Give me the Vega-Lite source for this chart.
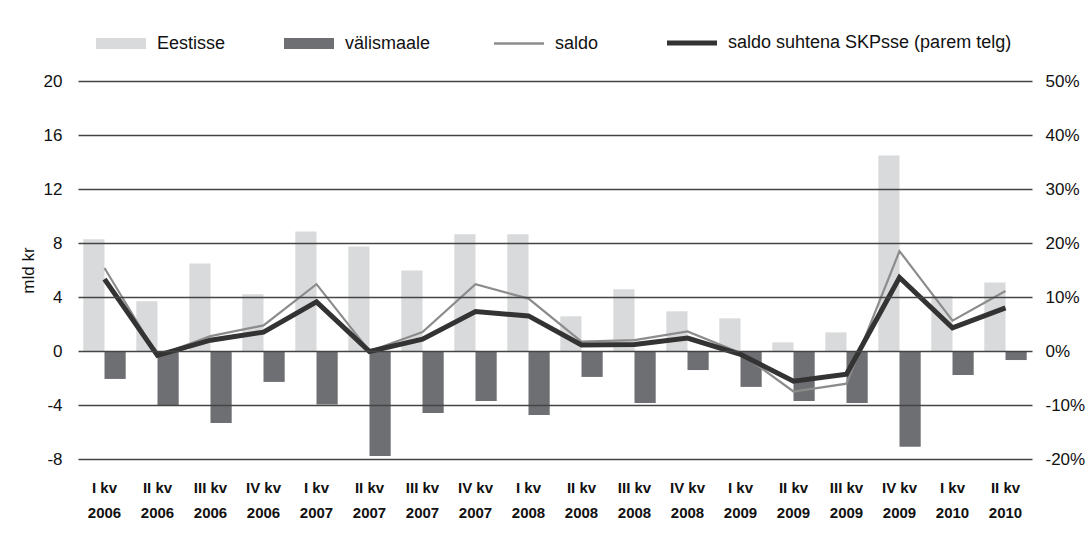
{
  "$schema": "https://vega.github.io/schema/vega-lite/v6.json",
  "width": 954,
  "height": 378,
  "autosize": {"type": "none"},
  "padding": {"left": 78, "top": 81, "right": 58, "bottom": 75},
  "background": "white",
  "config": {
    "view": {"stroke": null},
    "font": "Liberation Sans, Arial, Helvetica, sans-serif"
  },
  "data": {
    "values": [
      {"q": "I kv|2006", "s": "Eestisse", "v": 8.27},
      {"q": "II kv|2006", "s": "Eestisse", "v": 3.68},
      {"q": "III kv|2006", "s": "Eestisse", "v": 6.49},
      {"q": "IV kv|2006", "s": "Eestisse", "v": 4.2},
      {"q": "I kv|2007", "s": "Eestisse", "v": 8.86},
      {"q": "II kv|2007", "s": "Eestisse", "v": 7.75},
      {"q": "III kv|2007", "s": "Eestisse", "v": 5.97},
      {"q": "IV kv|2007", "s": "Eestisse", "v": 8.64},
      {"q": "I kv|2008", "s": "Eestisse", "v": 8.64},
      {"q": "II kv|2008", "s": "Eestisse", "v": 2.57},
      {"q": "III kv|2008", "s": "Eestisse", "v": 4.57},
      {"q": "IV kv|2008", "s": "Eestisse", "v": 2.94},
      {"q": "I kv|2009", "s": "Eestisse", "v": 2.42},
      {"q": "II kv|2009", "s": "Eestisse", "v": 0.64},
      {"q": "III kv|2009", "s": "Eestisse", "v": 1.38},
      {"q": "IV kv|2009", "s": "Eestisse", "v": 14.49},
      {"q": "I kv|2010", "s": "Eestisse", "v": 4.07},
      {"q": "II kv|2010", "s": "Eestisse", "v": 5.08},
      {"q": "I kv|2006", "s": "välismaale", "v": -2.07},
      {"q": "II kv|2006", "s": "välismaale", "v": -4.07},
      {"q": "III kv|2006", "s": "välismaale", "v": -5.33},
      {"q": "IV kv|2006", "s": "välismaale", "v": -2.29},
      {"q": "I kv|2007", "s": "välismaale", "v": -3.97},
      {"q": "II kv|2007", "s": "välismaale", "v": -7.77},
      {"q": "III kv|2007", "s": "välismaale", "v": -4.59},
      {"q": "IV kv|2007", "s": "välismaale", "v": -3.7},
      {"q": "I kv|2008", "s": "välismaale", "v": -4.74},
      {"q": "II kv|2008", "s": "välismaale", "v": -1.92},
      {"q": "III kv|2008", "s": "välismaale", "v": -3.85},
      {"q": "IV kv|2008", "s": "välismaale", "v": -1.41},
      {"q": "I kv|2009", "s": "välismaale", "v": -2.66},
      {"q": "II kv|2009", "s": "välismaale", "v": -3.7},
      {"q": "III kv|2009", "s": "välismaale", "v": -3.85},
      {"q": "IV kv|2009", "s": "välismaale", "v": -7.1},
      {"q": "I kv|2010", "s": "välismaale", "v": -1.78},
      {"q": "II kv|2010", "s": "välismaale", "v": -0.67},
      {"q": "I kv|2006", "s": "saldo", "v": 6.15},
      {"q": "II kv|2006", "s": "saldo", "v": -0.35},
      {"q": "III kv|2006", "s": "saldo", "v": 1.1},
      {"q": "IV kv|2006", "s": "saldo", "v": 1.9},
      {"q": "I kv|2007", "s": "saldo", "v": 4.95},
      {"q": "II kv|2007", "s": "saldo", "v": -0.02},
      {"q": "III kv|2007", "s": "saldo", "v": 1.4},
      {"q": "IV kv|2007", "s": "saldo", "v": 4.95},
      {"q": "I kv|2008", "s": "saldo", "v": 3.88},
      {"q": "II kv|2008", "s": "saldo", "v": 0.7},
      {"q": "III kv|2008", "s": "saldo", "v": 0.8},
      {"q": "IV kv|2008", "s": "saldo", "v": 1.45},
      {"q": "I kv|2009", "s": "saldo", "v": -0.15},
      {"q": "II kv|2009", "s": "saldo", "v": -3.0},
      {"q": "III kv|2009", "s": "saldo", "v": -2.42},
      {"q": "IV kv|2009", "s": "saldo", "v": 7.4},
      {"q": "I kv|2010", "s": "saldo", "v": 2.25},
      {"q": "II kv|2010", "s": "saldo", "v": 4.45},
      {"q": "I kv|2006", "s": "saldo suhtena SKPsse (parem telg)", "v": 13.3},
      {"q": "II kv|2006", "s": "saldo suhtena SKPsse (parem telg)", "v": -0.8},
      {"q": "III kv|2006", "s": "saldo suhtena SKPsse (parem telg)", "v": 2.0},
      {"q": "IV kv|2006", "s": "saldo suhtena SKPsse (parem telg)", "v": 3.5},
      {"q": "I kv|2007", "s": "saldo suhtena SKPsse (parem telg)", "v": 9.1},
      {"q": "II kv|2007", "s": "saldo suhtena SKPsse (parem telg)", "v": -0.1},
      {"q": "III kv|2007", "s": "saldo suhtena SKPsse (parem telg)", "v": 2.2},
      {"q": "IV kv|2007", "s": "saldo suhtena SKPsse (parem telg)", "v": 7.3},
      {"q": "I kv|2008", "s": "saldo suhtena SKPsse (parem telg)", "v": 6.5},
      {"q": "II kv|2008", "s": "saldo suhtena SKPsse (parem telg)", "v": 1.1},
      {"q": "III kv|2008", "s": "saldo suhtena SKPsse (parem telg)", "v": 1.2},
      {"q": "IV kv|2008", "s": "saldo suhtena SKPsse (parem telg)", "v": 2.4},
      {"q": "I kv|2009", "s": "saldo suhtena SKPsse (parem telg)", "v": -0.6},
      {"q": "II kv|2009", "s": "saldo suhtena SKPsse (parem telg)", "v": -5.6},
      {"q": "III kv|2009", "s": "saldo suhtena SKPsse (parem telg)", "v": -4.3},
      {"q": "IV kv|2009", "s": "saldo suhtena SKPsse (parem telg)", "v": 13.6},
      {"q": "I kv|2010", "s": "saldo suhtena SKPsse (parem telg)", "v": 4.3},
      {"q": "II kv|2010", "s": "saldo suhtena SKPsse (parem telg)", "v": 8.0}
    ]
  },
  "encoding": {
    "x": {
      "field": "q",
      "type": "nominal",
      "sort": null,
      "scale": {"paddingInner": 0.2, "paddingOuter": 0.1},
      "axis": {
        "title": null,
        "labelAngle": 0,
        "labelExpr": "split(datum.label, '|')",
        "labelFontSize": 15,
        "labelFontWeight": "bold",
        "labelColor": "#111111",
        "labelPadding": 21,
        "labelLineHeight": 25,
        "labelBaseline": "top",
        "ticks": false,
        "domain": false,
        "grid": false
      }
    }
  },
  "layer": [
    {
      "layer": [
        {
          "transform": [{"filter": "datum.s === 'Eestisse' || datum.s === 'välismaale'"}],
          "mark": {"type": "bar"},
          "encoding": {
            "xOffset": {
              "field": "s",
              "type": "nominal",
              "scale": {"domain": ["Eestisse", "välismaale"], "paddingInner": 0, "paddingOuter": 0}
            },
            "y": {
              "field": "v",
              "type": "quantitative",
              "scale": {"domain": [-8, 20], "nice": false, "zero": false},
              "axis": {
                "values": [-8, -4, 0, 4, 8, 12, 16, 20],
                "labelExpr": "'' + datum.value",
                "title": "mld kr",
                "titleFontSize": 17,
                "titleFontWeight": "normal",
                "titleColor": "#111111",
                "titlePadding": 6,
                "labelFontSize": 17,
                "labelColor": "#111111",
                "labelPadding": 16,
                "ticks": false,
                "domain": false,
                "grid": true,
                "gridColor": "#444444",
                "gridWidth": 1.3,
                "zindex": 1
              }
            },
            "color": {
              "field": "s",
              "type": "nominal",
              "scale": {
                "domain": ["Eestisse", "välismaale", "saldo", "saldo suhtena SKPsse (parem telg)"],
                "range": ["#d9dadb", "#6e6f72", "#8c8c8c", "#333333"]
              },
              "legend": {
                "orient": "none",
                "legendX": 34,
                "legendY": -47,
                "direction": "horizontal",
                "columns": 4,
                "title": null,
                "symbolSize": 2500,
                "labelFontSize": 18,
                "labelColor": "#111111",
                "labelOffset": 27,
                "columnPadding": 58,
                "labelLimit": 400,
                "encode": {
                  "symbols": {
                    "update": {
                      "shape": {"signal": "(datum.value === 'Eestisse' || datum.value === 'välismaale') ? 'M-1,-0.22H1V0.22H-1Z' : 'M-1,0H1'"},
                      "fill": {"signal": "datum.value === 'Eestisse' ? '#d9dadb' : (datum.value === 'välismaale' ? '#6e6f72' : 'transparent')"},
                      "stroke": {"signal": "datum.value === 'saldo' ? '#8c8c8c' : (datum.value === 'Eestisse' || datum.value === 'välismaale' ? 'transparent' : '#333333')"},
                      "strokeWidth": {"signal": "datum.value === 'saldo' ? 2.5 : (datum.value === 'Eestisse' || datum.value === 'välismaale' ? 0 : 5)"},
                      "opacity": {"value": 1}
                    }
                  }
                }
              }
            }
          }
        },
        {
          "transform": [{"filter": "datum.s === 'saldo'"}],
          "mark": {"type": "line", "strokeWidth": 2.2},
          "encoding": {
            "y": {"field": "v", "type": "quantitative"},
            "color": {"field": "s", "type": "nominal"}
          }
        }
      ]
    },
    {
      "transform": [{"filter": "datum.s === 'saldo suhtena SKPsse (parem telg)'"}],
      "mark": {"type": "line", "strokeWidth": 5},
      "encoding": {
        "y": {
          "field": "v",
          "type": "quantitative",
          "scale": {"domain": [-20, 50], "nice": false, "zero": false},
          "axis": {
            "orient": "right",
            "title": null,
            "values": [-20, -10, 0, 10, 20, 30, 40, 50],
            "labelExpr": "datum.value + '%'",
            "labelFontSize": 17,
            "labelColor": "#111111",
            "labelPadding": 13,
            "ticks": false,
            "domain": false,
            "grid": false
          }
        },
        "color": {"field": "s", "type": "nominal"}
      }
    }
  ],
  "resolve": {"scale": {"y": "independent"}}
}
